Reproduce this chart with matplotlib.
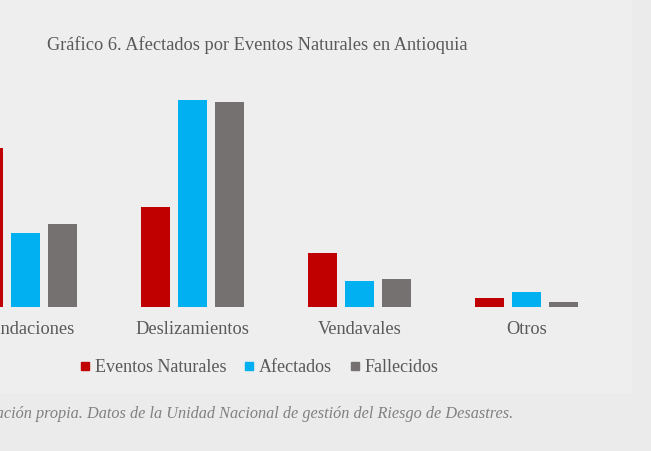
import numpy as np
import matplotlib
matplotlib.use("Agg")
import matplotlib.pyplot as plt
from matplotlib.lines import Line2D
from matplotlib.patches import Rectangle

# share of each series per event type (%)
categorias = ["Inundaciones", "Deslizamientos", "Vendavales", "Otros"]
series = ["Eventos Naturales", "Afectados", "Fallecidos"]
eventos = [49.3, 31.0, 16.8, 2.9]
afectados = [23.1, 64.2, 8.0, 4.7]
fallecidos = [25.9, 63.8, 8.7, 1.7]
colores = ["#c00000", "#00b0f0", "#767171"]

titulo = "Gráfico 6. Afectados por Eventos Naturales en Antioquia"
fuente = "Fuente: Elaboración propia. Datos de la Unidad Nacional de gestión del Riesgo de Desastres."

plt.rcParams["font.family"] = ["Liberation Serif", "DejaVu Serif"]
texto = "#595959"

W, H = 651, 451
fig = plt.figure(figsize=(W / 100, H / 100), dpi=100, facecolor="#ebebeb")

# lighter chart panel, kept behind the axes
fig.patches.append(Rectangle((0, 1 - 393 / H), 632 / W, 393 / H,
                             transform=fig.transFigure, facecolor="#eeeeee",
                             edgecolor="none", zorder=-5))

# axes spans the full width; x in group units, 167 px per group
px_grupo = 167.0
x0 = 25.5  # pixel centre of first group
ax = fig.add_axes([0, (H - 307) / H, 1, (307 - 60) / H])
ax.set_xlim(-x0 / px_grupo, (W - x0) / px_grupo)
ax.set_ylim(0, (307 - 60) / 322 * 100)
ax.patch.set_alpha(0)
for s in ax.spines.values():
    s.set_visible(False)

x = np.arange(len(categorias))
ancho = 29.5 / px_grupo
paso = 37 / px_grupo
for i, (vals, c) in enumerate(zip([eventos, afectados, fallecidos], colores)):
    ax.bar(x + (i - 1) * paso, vals, width=ancho, color=c, label=series[i])

ax.set_yticks([])
ax.set_xticks(x)
ax.set_xticklabels(categorias, fontsize=13.2, color=texto)
ax.tick_params(axis="x", length=0, pad=10)

fig.text(47 / W, 1 - 45 / H, titulo, fontsize=13.2, color=texto,
         ha="left", va="center")

handles = [Line2D([], [], marker="s", linestyle="none", markersize=6,
                  color=c) for c in colores]
fig.legend(handles, series, loc="center", bbox_to_anchor=(259 / W, 1 - 368 / H),
           ncol=3, frameon=False, fontsize=13, handlelength=0.6,
           handletextpad=0.25, columnspacing=0.95, labelcolor=texto)

fig.text(513 / W, 1 - 414 / H, fuente, fontsize=11.7, style="italic",
         color="#808080", ha="right", va="center")

fig.savefig("out.png", dpi=100, facecolor=fig.get_facecolor())
